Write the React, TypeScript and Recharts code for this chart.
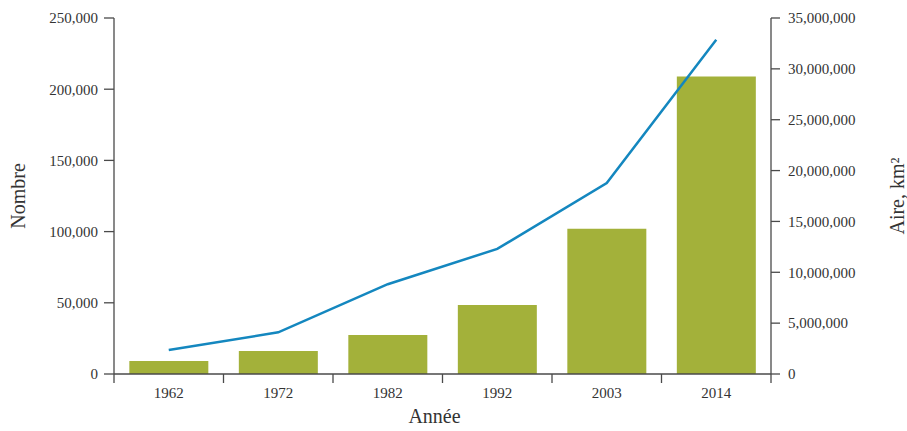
import React from 'react';
import { ComposedChart, Bar, Line, XAxis, YAxis } from 'recharts';

const years = ['1962', '1972', '1982', '1992', '2003', '2014'];
const nombre = [9200, 16200, 27400, 48500, 102000, 209000];
const aire = [2360000, 4100000, 8830000, 12300000, 18770000, 32870000];
const leftTicks = [0, 50000, 100000, 150000, 200000, 250000];
const rightTicks = [0, 5000000, 10000000, 15000000, 20000000, 25000000, 30000000, 35000000];

const data = years.map((year, i) => ({ year, nombre: nombre[i], aire: aire[i] }));

const AXIS = '#4a4a4a';
const TEXT = '#333333';
const FONT = '"Liberation Serif", "DejaVu Serif", serif';

function fmt(v: number): string {
  return v.toLocaleString('en-US');
}

function YearTick(props: any) {
  const { x, y, payload, index } = props;
  const half = payload?.offset || 54.75;
  const last = index === years.length - 1;
  return (
    <g>
      <line x1={x - half} y1={y - 8} x2={x - half} y2={y + 1} stroke={AXIS} strokeWidth={1.3} />
      {last && <line x1={x + half} y1={y - 8} x2={x + half} y2={y + 1} stroke={AXIS} strokeWidth={1.3} />}
      <text x={x} y={y + 16} textAnchor="middle" fill={TEXT} fontSize={15} fontFamily={FONT}>
        {payload.value}
      </text>
    </g>
  );
}

function SideTitle(props: any) {
  const { viewBox, value, side } = props;
  if (!viewBox) return null;
  const { x, y, width, height } = viewBox;
  const cx = side === 'left' ? x + 18 : x + width - 10;
  const cy = y + height / 2;
  return (
    <text
      x={cx}
      y={cy}
      transform={`rotate(-90 ${cx} ${cy})`}
      textAnchor="middle"
      dominantBaseline="central"
      fill={TEXT}
      fontSize={20}
      fontFamily={FONT}
    >
      {value}
    </text>
  );
}

function BottomTitle(props: any) {
  const { viewBox, value } = props;
  if (!viewBox) return null;
  const { x, y, width, height } = viewBox;
  return (
    <text
      x={x + width / 2 - 8}
      y={y + height - 8}
      textAnchor="middle"
      fill={TEXT}
      fontSize={20}
      fontFamily={FONT}
    >
      {value}
    </text>
  );
}

export default function App() {
  return (
    <div style={{ width: 907, height: 431 }}>
      <style>{'body{margin:0}'}</style>
      <ComposedChart
        width={907}
        height={431}
        data={data}
        margin={{ top: 18, right: 0, left: 0, bottom: 0 }}
        barCategoryGap="14%"
      >
        <XAxis
          dataKey="year"
          height={57}
          axisLine={{ stroke: AXIS, strokeWidth: 1.3 }}
          tickLine={false}
          tick={<YearTick />}
          interval={0}
          label={<BottomTitle value="Année" />}
        />
        <YAxis
          yAxisId="left"
          orientation="left"
          width={114}
          domain={[0, 250000]}
          ticks={leftTicks}
          tickFormatter={fmt}
          tickSize={10}
          tickMargin={6}
          axisLine={{ stroke: AXIS, strokeWidth: 1.3 }}
          tickLine={{ stroke: AXIS, strokeWidth: 1.3 }}
          tick={{ fill: TEXT, fontSize: 15, fontFamily: FONT }}
          label={<SideTitle value="Nombre" side="left" />}
        />
        <YAxis
          yAxisId="right"
          orientation="right"
          width={136}
          domain={[0, 35000000]}
          ticks={rightTicks}
          tickFormatter={fmt}
          tickSize={9}
          tickMargin={8}
          axisLine={{ stroke: AXIS, strokeWidth: 1.3 }}
          tickLine={{ stroke: AXIS, strokeWidth: 1.3 }}
          tick={{ fill: TEXT, fontSize: 15, fontFamily: FONT }}
          label={<SideTitle value="Aire, km²" side="right" />}
        />
        <Bar yAxisId="left" dataKey="nombre" fill="#a3b13a" isAnimationActive={false} />
        <Line
          yAxisId="right"
          dataKey="aire"
          type="linear"
          stroke="#1487bf"
          strokeWidth={2.5}
          dot={false}
          activeDot={false}
          isAnimationActive={false}
        />
      </ComposedChart>
    </div>
  );
}
